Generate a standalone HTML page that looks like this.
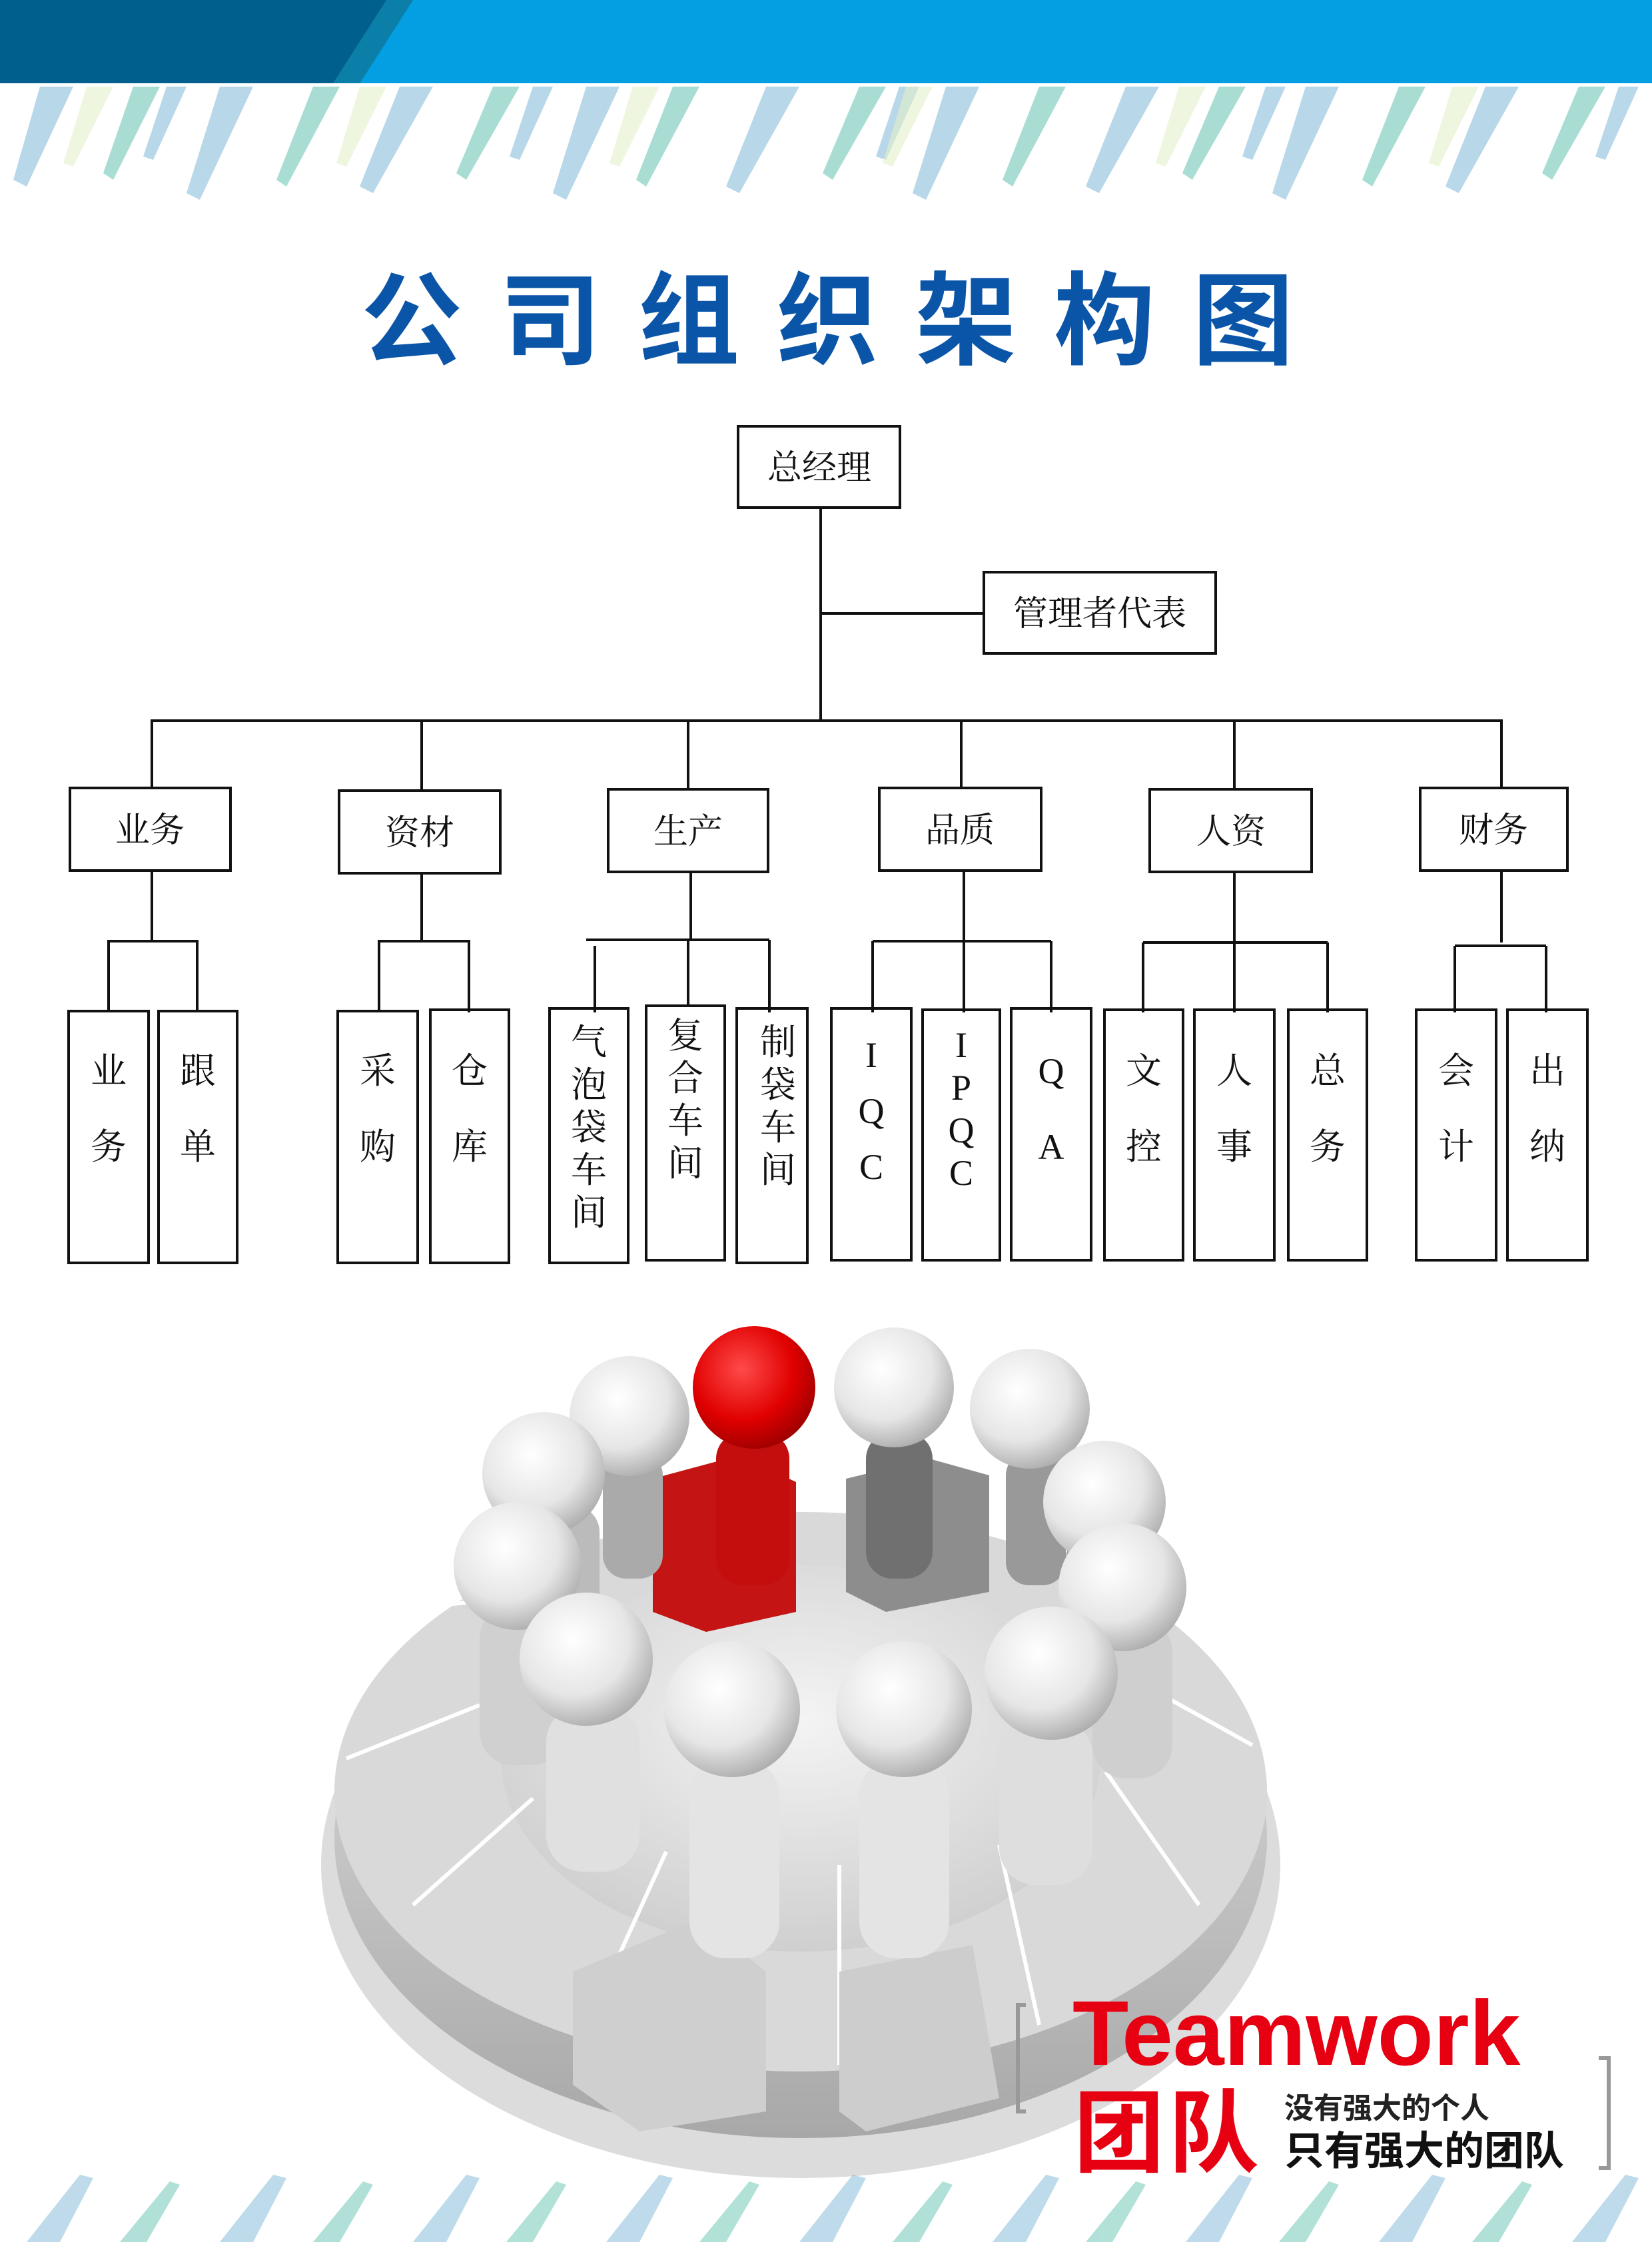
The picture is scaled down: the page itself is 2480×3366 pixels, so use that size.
<!DOCTYPE html>
<html><head><meta charset="utf-8"><style>
html,body{margin:0;padding:0;background:#fff}
svg{display:block}
.t{font-family:"Liberation Serif","Noto Serif CJK SC",serif;font-size:52px;fill:#111;text-anchor:middle}
.l{font-family:"Liberation Serif","Noto Serif CJK SC",serif;font-size:54px;fill:#111;text-anchor:middle}
</style></head><body>
<svg width="2480" height="3366" viewBox="0 0 2480 3366" xmlns="http://www.w3.org/2000/svg">
<defs>
<radialGradient id="hg" cx="0.4" cy="0.35" r="0.7"><stop offset="0" stop-color="#fff"/><stop offset="0.6" stop-color="#e6e6e6"/><stop offset="1" stop-color="#a9a9a9"/></radialGradient>
<radialGradient id="rg" cx="0.4" cy="0.35" r="0.7"><stop offset="0" stop-color="#ff4a4a"/><stop offset="0.6" stop-color="#e00000"/><stop offset="1" stop-color="#900"/></radialGradient>
<radialGradient id="fl" cx="0.5" cy="0.4" r="0.6"><stop offset="0" stop-color="#f4f4f4"/><stop offset="1" stop-color="#cfcfcf"/></radialGradient>
<linearGradient id="bg" x1="0" x2="0" y1="0" y2="1"><stop offset="0" stop-color="#e3e3e3"/><stop offset="1" stop-color="#a8a8a8"/></linearGradient>
</defs>
<!-- header -->
<rect x="0" y="0" width="2480" height="125" fill="#049fe3"/>
<polygon points="0,0 620,0 540,125 0,125" fill="#005f8c"/>
<polygon points="580,0 620,0 540,125 500,125" fill="#0b7fa8"/>
<g opacity="0.55">
<g fill="#7fb8d8"><polygon points="60,130 110,130 40,280 20,270"/><polygon points="330,130 380,130 300,300 280,290"/><polygon points="600,130 650,130 560,290 540,280"/><polygon points="880,130 930,130 850,300 830,290"/><polygon points="1150,130 1200,130 1110,290 1090,280"/><polygon points="1420,130 1470,130 1390,300 1370,290"/><polygon points="1690,130 1740,130 1650,290 1630,280"/><polygon points="1960,130 2010,130 1930,300 1910,290"/><polygon points="2230,130 2280,130 2190,290 2170,280"/>
<polygon points="250,130 280,130 230,240 215,235"/><polygon points="800,130 830,130 780,240 765,235"/><polygon points="1350,130 1380,130 1330,240 1315,235"/><polygon points="1900,130 1930,130 1880,240 1865,235"/><polygon points="2430,130 2460,130 2410,240 2395,235"/></g>
<g fill="#63c3b0"><polygon points="200,130 240,130 170,270 155,260"/><polygon points="470,130 510,130 430,280 415,270"/><polygon points="740,130 780,130 700,270 685,260"/><polygon points="1010,130 1050,130 970,280 955,270"/><polygon points="1290,130 1330,130 1250,270 1235,260"/><polygon points="1560,130 1600,130 1520,280 1505,270"/><polygon points="1830,130 1870,130 1790,270 1775,260"/><polygon points="2100,130 2140,130 2060,280 2045,270"/><polygon points="2370,130 2410,130 2330,270 2315,260"/></g>
<g fill="#cfe3a0" opacity="0.6"><polygon points="130,130 170,130 110,250 95,245"/><polygon points="540,130 580,130 520,250 505,245"/><polygon points="950,130 990,130 930,250 915,245"/><polygon points="1360,130 1400,130 1340,250 1325,245"/><polygon points="1770,130 1810,130 1750,250 1735,245"/><polygon points="2180,130 2220,130 2160,250 2145,245"/></g>
</g>
<!-- bottom band -->
<g opacity="0.5">
<g fill="#7fb8d8"><polygon points="40,3366 90,3366 140,3270 120,3265"/><polygon points="330,3366 380,3366 430,3270 410,3265"/><polygon points="620,3366 670,3366 720,3270 700,3265"/><polygon points="910,3366 960,3366 1010,3270 990,3265"/><polygon points="1200,3366 1250,3366 1300,3270 1280,3265"/><polygon points="1490,3366 1540,3366 1590,3270 1570,3265"/><polygon points="1780,3366 1830,3366 1880,3270 1860,3265"/><polygon points="2070,3366 2120,3366 2170,3270 2150,3265"/><polygon points="2360,3366 2410,3366 2460,3270 2440,3265"/></g>
<g fill="#63c3b0"><polygon points="180,3366 220,3366 270,3280 255,3275"/><polygon points="470,3366 510,3366 560,3280 545,3275"/><polygon points="760,3366 800,3366 850,3280 835,3275"/><polygon points="1050,3366 1090,3366 1140,3280 1125,3275"/><polygon points="1340,3366 1380,3366 1430,3280 1415,3275"/><polygon points="1630,3366 1670,3366 1720,3280 1705,3275"/><polygon points="1920,3366 1960,3366 2010,3280 1995,3275"/><polygon points="2210,3366 2250,3366 2300,3280 2285,3275"/></g>
</g>
<!-- title -->
<text x="1270" y="535" text-anchor="middle" font-family="'Liberation Sans','Noto Sans CJK SC',sans-serif" font-weight="bold" font-size="152" letter-spacing="56" fill="#0b55a8">公司组织架构图</text>
<!-- chart -->
<g fill="none" stroke="#111" stroke-width="4">
<rect x="1108" y="640" width="243" height="122"/>
<rect x="1477" y="859" width="348" height="122"/>
<line x1="1232" y1="762" x2="1232" y2="1080"/>
<line x1="1232" y1="921" x2="1477" y2="921"/>
<line x1="226" y1="1082" x2="2256" y2="1082"/>
<line x1="228" y1="1082" x2="228" y2="1183"/><line x1="633" y1="1082" x2="633" y2="1187"/><line x1="1033" y1="1082" x2="1033" y2="1185"/><line x1="1443" y1="1082" x2="1443" y2="1183"/><line x1="1853" y1="1082" x2="1853" y2="1185"/><line x1="2254" y1="1082" x2="2254" y2="1183"/>
<rect x="105" y="1183" width="241" height="124"/>
<rect x="509" y="1187" width="242" height="124"/>
<rect x="913" y="1185" width="240" height="124"/>
<rect x="1320" y="1183" width="243" height="124"/>
<rect x="1726" y="1185" width="243" height="124"/>
<rect x="2132" y="1183" width="221" height="124"/>
<path d="M228 1307V1413M163 1520V1413H296V1520"/>
<path d="M633 1311V1413M569 1520V1413H704V1520"/>
<path d="M1037 1309V1411M880 1411H1155M893 1420V1520M1033 1411V1510M1155 1411V1520"/>
<path d="M1447 1307V1413M1310 1413H1578M1310 1413V1520M1447 1413V1520M1578 1413V1520"/>
<path d="M1853 1309V1415M1716 1415H1993M1716 1415V1520M1853 1415V1520M1993 1415V1520"/>
<path d="M2254 1307V1415M2184 1420H2321M2184 1420V1520M2321 1420V1520"/>
<rect x="103" y="1518" width="120" height="378"/><rect x="238" y="1518" width="118" height="378"/>
<rect x="507" y="1518" width="120" height="378"/><rect x="646" y="1516" width="118" height="380"/>
<rect x="825" y="1514" width="118" height="382"/><rect x="970" y="1510" width="118" height="382"/><rect x="1106" y="1514" width="106" height="382"/>
<rect x="1248" y="1514" width="120" height="378"/><rect x="1385" y="1516" width="116" height="376"/><rect x="1518" y="1514" width="120" height="378"/>
<rect x="1658" y="1516" width="118" height="376"/><rect x="1793" y="1516" width="120" height="376"/><rect x="1934" y="1516" width="118" height="376"/>
<rect x="2126" y="1516" width="120" height="376"/><rect x="2263" y="1516" width="120" height="376"/>
</g>
<text class="t" x="1230" y="720">总经理</text>
<text class="t" x="1651" y="939">管理者代表</text>
<text class="t" x="225" y="1264">业务</text>
<text class="t" x="630" y="1268">资材</text>
<text class="t" x="1033" y="1266">生产</text>
<text class="t" x="1441" y="1264">品质</text>
<text class="t" x="1848" y="1266">人资</text>
<text class="t" x="2242" y="1264">财务</text>
<g class="l">
<text class="l" x="163" y="1626">业</text><text class="l" x="163" y="1740">务</text>
<text class="l" x="297" y="1626">跟</text><text class="l" x="297" y="1740">单</text>
<text class="l" x="567" y="1626">采</text><text class="l" x="567" y="1740">购</text>
<text class="l" x="705" y="1626">仓</text><text class="l" x="705" y="1740">库</text>
<text class="l" x="884" y="1583">气</text><text class="l" x="884" y="1647">泡</text><text class="l" x="884" y="1711">袋</text><text class="l" x="884" y="1775">车</text><text class="l" x="884" y="1839">间</text>
<text class="l" x="1029" y="1573">复</text><text class="l" x="1029" y="1637">合</text><text class="l" x="1029" y="1701">车</text><text class="l" x="1029" y="1765">间</text>
<text class="l" x="1168" y="1583">制</text><text class="l" x="1168" y="1647">袋</text><text class="l" x="1168" y="1711">车</text><text class="l" x="1168" y="1775">间</text>
<text class="l" x="1308" y="1602">I</text><text class="l" x="1308" y="1686">Q</text><text class="l" x="1308" y="1770">C</text>
<text class="l" x="1443" y="1587">I</text><text class="l" x="1443" y="1651">P</text><text class="l" x="1443" y="1715">Q</text><text class="l" x="1443" y="1779">C</text>
<text class="l" x="1578" y="1626">Q</text><text class="l" x="1578" y="1740">A</text>
<text class="l" x="1717" y="1626">文</text><text class="l" x="1717" y="1740">控</text>
<text class="l" x="1853" y="1626">人</text><text class="l" x="1853" y="1740">事</text>
<text class="l" x="1993" y="1626">总</text><text class="l" x="1993" y="1740">务</text>
<text class="l" x="2186" y="1626">会</text><text class="l" x="2186" y="1740">计</text>
<text class="l" x="2323" y="1626">出</text><text class="l" x="2323" y="1740">纳</text>
</g>
<!-- team image -->
<ellipse cx="1202" cy="2800" rx="720" ry="470" fill="#9a9a9a" opacity="0.35"/>
<ellipse cx="1202" cy="2760" rx="700" ry="450" fill="url(#bg)"/>
<ellipse cx="1202" cy="2690" rx="700" ry="420" fill="#d9d9d9"/>
<ellipse cx="1202" cy="2640" rx="450" ry="290" fill="url(#fl)"/>
<g stroke="#fff" stroke-width="6">
<line x1="760" y1="2400" x2="560" y2="2420"/><line x1="720" y1="2560" x2="520" y2="2640"/><line x1="800" y1="2700" x2="620" y2="2860"/><line x1="1000" y1="2780" x2="900" y2="3000"/><line x1="1260" y1="2800" x2="1260" y2="3100"/><line x1="1500" y1="2770" x2="1560" y2="3040"/><line x1="1660" y1="2660" x2="1800" y2="2860"/><line x1="1700" y1="2520" x2="1880" y2="2620"/><line x1="1660" y1="2400" x2="1860" y2="2440"/>
</g>
<polygon points="980,2220 1110,2185 1195,2225 1195,2420 1060,2450 980,2420" fill="#c41414"/>
<polygon points="1270,2220 1395,2190 1485,2215 1485,2390 1330,2420 1270,2390" fill="#8d8d8d"/>
<g>
<rect x="1075" y="2150" width="110" height="230" rx="40" fill="#c40d0d"/>
<circle cx="1132" cy="2083" r="92" fill="url(#rg)"/>
<rect x="1300" y="2150" width="100" height="220" rx="40" fill="#707070"/>
<circle cx="1342" cy="2083" r="90" fill="url(#hg)"/>
<rect x="905" y="2180" width="90" height="190" rx="35" fill="#aaa"/>
<circle cx="945" cy="2126" r="90" fill="url(#hg)"/>
<rect x="1510" y="2180" width="90" height="200" rx="35" fill="#999"/>
<circle cx="1546" cy="2115" r="90" fill="url(#hg)"/>
<rect x="790" y="2260" width="110" height="200" rx="40" fill="#bbb"/>
<circle cx="816" cy="2212" r="92" fill="url(#hg)"/>
<rect x="1600" y="2300" width="100" height="200" rx="40" fill="#a5a5a5"/>
<circle cx="1658" cy="2255" r="92" fill="url(#hg)"/>
<rect x="720" y="2410" width="130" height="240" rx="50" fill="#d0d0d0"/>
<circle cx="777" cy="2351" r="96" fill="url(#hg)"/>
<rect x="1640" y="2430" width="120" height="240" rx="50" fill="#cfcfcf"/>
<circle cx="1685" cy="2383" r="96" fill="url(#hg)"/>
<rect x="820" y="2560" width="140" height="250" rx="55" fill="#e0e0e0"/>
<circle cx="880" cy="2491" r="100" fill="url(#hg)"/>
<rect x="1500" y="2580" width="140" height="250" rx="55" fill="#dedede"/>
<circle cx="1578" cy="2512" r="100" fill="url(#hg)"/>
<polygon points="860,2960 1050,2880 1150,2960 1150,3170 960,3200 860,3130" fill="#cfcfcf"/>
<polygon points="1260,2960 1460,2920 1500,3150 1300,3200 1260,3170" fill="#cdcdcd"/>
<rect x="1035" y="2640" width="135" height="300" rx="55" fill="#e4e4e4"/>
<circle cx="1099" cy="2566" r="102" fill="url(#hg)"/>
<rect x="1290" y="2640" width="135" height="300" rx="55" fill="#e4e4e4"/>
<circle cx="1357" cy="2566" r="102" fill="url(#hg)"/>
</g>
<path d="M1540 3010H1528V3170H1540" fill="none" stroke="#999" stroke-width="6"/>
<path d="M2400 3090H2415V3255H2400" fill="none" stroke="#999" stroke-width="6"/>
<text x="1610" y="3100" font-family="'Liberation Sans',sans-serif" font-weight="bold" font-size="138" fill="#e60012">Teamwork</text>
<text x="1612" y="3250" font-family="'Liberation Sans','Noto Sans CJK SC',sans-serif" font-weight="bold" font-size="136" letter-spacing="6" fill="#e60012">团队</text>
<text x="1928" y="3180" font-family="'Liberation Sans','Noto Sans CJK SC',sans-serif" font-weight="bold" font-size="44" fill="#222">没有强大的个人</text>
<text x="1928" y="3250" font-family="'Liberation Sans','Noto Sans CJK SC',sans-serif" font-weight="bold" font-size="60" fill="#111">只有强大的团队</text>
</svg>
</body></html>
